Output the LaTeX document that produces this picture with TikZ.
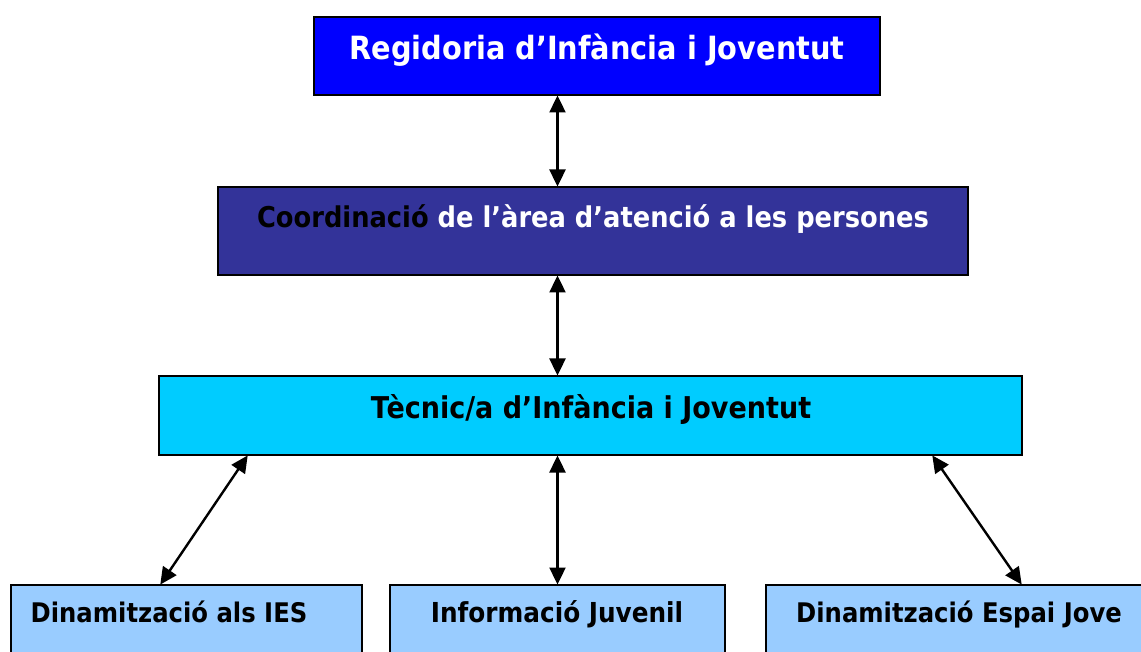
\documentclass[tikz,border=0pt]{standalone}
\usepackage{fontspec}
\setmainfont{DejaVu Sans}[FakeStretch=0.9]
\usetikzlibrary{arrows.meta,calc}
\definecolor{cTop}{HTML}{0000FF}
\definecolor{cMid}{HTML}{333399}
\definecolor{cTec}{HTML}{00CCFF}
\definecolor{cLow}{HTML}{99CCFF}
\begin{document}
\begin{tikzpicture}[x=1pt,y=-1pt,
  box/.style={draw=black,line width=1.6pt,anchor=north west,inner sep=0pt,outer sep=0pt},
  lbl/.style={inner sep=0pt,anchor=base,font=\bfseries},
  arr/.style={line width=2.4pt,{Triangle[length=17pt,width=16pt]}-{Triangle[length=17pt,width=16pt]},shorten <=0.5pt,shorten >=0.5pt}]
\clip (0,0) rectangle (1141,652);
\fill[white] (0,0) rectangle (1141,652);
\node[box,fill=cTop,minimum width=566,minimum height=78] (top) at (314,17) {};
\node[box,fill=cMid,minimum width=750,minimum height=88] (mid) at (218,187) {};
\node[box,fill=cTec,minimum width=863,minimum height=79] (tec) at (159,376) {};
\node[box,fill=cLow,minimum width=351,minimum height=90] (b1) at (11,585) {};
\node[box,fill=cLow,minimum width=335,minimum height=90] (b2) at (390,585) {};
\node[box,fill=cLow,minimum width=400,minimum height=90] (b3) at (766,585) {};
\node[lbl,text=white,font=\bfseries\fontsize{32}{36}\selectfont] (ttop) at (597,60) {Regidoria d’Infància i Joventut};
\node[lbl,text=white,font=\bfseries\fontsize{28.6}{32}\selectfont] (tmid) at (593,228) {\textcolor{black}{Coordinació} de l’àrea d’atenció a les persones};
\node[lbl,text=black,font=\bfseries\fontsize{30}{34}\selectfont] (ttec) at (591,418) {Tècnic/a d’Infància i Joventut};
\node[lbl,text=black,font=\bfseries\fontsize{27}{31}\selectfont] (tb1) at (169,622) {Dinamització als IES};
\node[lbl,text=black,font=\bfseries\fontsize{27.5}{31}\selectfont] (tb2) at (557,622) {Informació Juvenil};
\node[lbl,text=black,font=\bfseries\fontsize{27}{31}\selectfont] (tb3) at (959,622) {Dinamització Espai Jove};
\draw[arr] (top.south -| b2.north) -- (mid.north -| b2.north);
\draw[arr] (mid.south -| b2.north) -- (tec.north -| b2.north);
\draw[arr] ($(tec.south west)+(89,0)$) -- ($(b1.north west)+(149,0)$);
\draw[arr] (tec.south -| b2.north) -- (b2.north);
\draw[arr] ($(tec.south west)+(773,0)$) -- ($(b3.north west)+(256,0)$);
\end{tikzpicture}
\end{document}
